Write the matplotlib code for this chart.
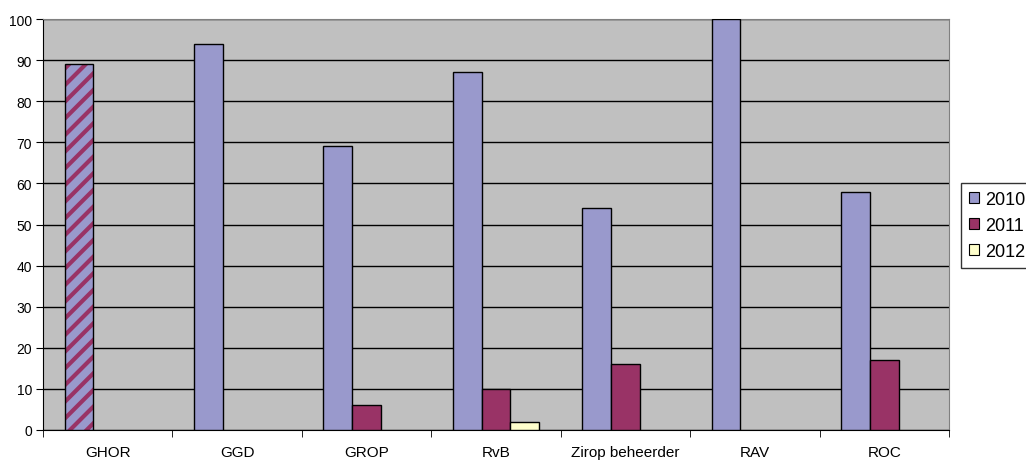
import matplotlib
matplotlib.use("Agg")
import matplotlib.pyplot as plt
import numpy as np

plt.rcParams['font.family'] = ['Liberation Sans', 'DejaVu Sans']
plt.rcParams['hatch.linewidth'] = 3.0

categories = ['GHOR', 'GGD', 'GROP', 'RvB', 'Zirop beheerder', 'RAV', 'ROC']
years = ['2010', '2011', '2012']
v2010 = [89, 94, 69, 87, 54, 100, 58]
v2011 = [0, 0, 6, 10, 16, 0, 17]
v2012 = [0, 0, 0, 2, 0, 0, 0]
# GHOR has one combined bar (2010/2011), drawn striped
striped = [True, False, False, False, False, False, False]

colors = ['#9999CC', '#993366', '#FFFFCC']
series = [v2010, v2011, v2012]

fig = plt.figure(figsize=(10.26, 4.64), dpi=100)
ax = fig.add_axes([43 / 1026, 1 - 431 / 464, (949 - 43) / 1026, (431 - 20) / 464])
ax.set_facecolor('#C0C0C0')

x = np.arange(len(categories))
w = 1 / 4.5
offsets = [-w, 0, w]

for vals, col, off, yr in zip(series, colors, offsets, years):
    for i, v in enumerate(vals):
        if v == 0:
            continue
        if yr == '2010' and striped[i]:
            ax.bar(x[i] + off, v, w, color=colors[0], edgecolor=colors[1],
                   hatch='//', linewidth=0, zorder=3)
            ax.bar(x[i] + off, v, w, fill=False, edgecolor='black',
                   linewidth=1, zorder=4)
        else:
            ax.bar(x[i] + off, v, w, color=col, edgecolor='black',
                   linewidth=1, zorder=3)

ax.set_xlim(-0.5, len(categories) - 0.5)
ax.set_ylim(0, 100)
ax.set_yticks(range(0, 101, 10))
ax.yaxis.grid(True, color='black', linewidth=1)
ax.set_axisbelow(True)

ax.set_xticks(x)
ax.set_xticklabels(categories, fontsize=11)
ax.set_xticks(np.arange(-0.5, len(categories)), minor=True)
ax.tick_params(axis='x', which='major', length=0, pad=11)
ax.tick_params(axis='x', which='minor', length=5, direction='out', color='black')
ax.tick_params(axis='y', length=5, direction='out', labelsize=10, pad=3)

for s in ['top', 'right']:
    ax.spines[s].set_color('#808080')
for s in ['left', 'bottom']:
    ax.spines[s].set_color('black')

handles = [plt.Rectangle((0, 0), 1, 1, facecolor=c, edgecolor='black', linewidth=0.8)
           for c in colors]
leg = fig.legend(handles, years, loc='upper left', bbox_to_anchor=(961 / 1026, 1 - 184 / 464),
                 fontsize=13, frameon=True, fancybox=False, handlelength=0.55,
                 handleheight=0.55, handletextpad=0.35, labelspacing=0.5,
                 borderpad=0.45, borderaxespad=0)
leg.get_frame().set_edgecolor('black')
leg.get_frame().set_linewidth(1)

fig.savefig('out.png', dpi=100)
